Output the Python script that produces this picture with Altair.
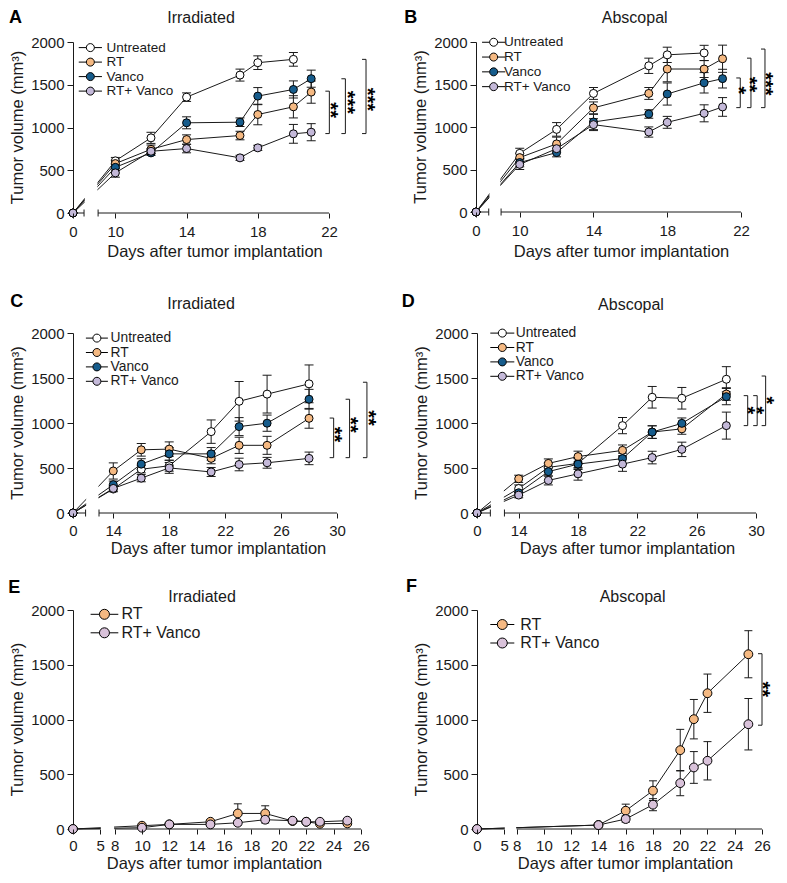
import altair as alt
import pandas as pd

FONT = "Liberation Sans"
INK = "#1a1a1a"

NAMES4 = ["Untreated", "RT", "Vanco", "RT+ Vanco"]
FILL4 = ["#ffffff", "#F5B982", "#165C8C", "#C4B9D9"]
NAMES2 = ["RT", "RT+ Vanco"]
FILL2 = ["#F5B982", "#D9C2DA"]

# ---------------- Panel A : Irradiated ----------------
A_days = [0, 10, 12, 14, 17, 18, 20, 21]
A_untreated = [0, 610, 879, 1355, 1613, 1758, 1797, None]
A_untreated_err = [0, 40, 65, 50, 70, 80, 80, None]
A_rt = [0, 578, 745, 859, 906, 1152, 1242, 1414]
A_rt_err = [0, 40, 50, 55, 50, 120, 130, 130]
A_vanco = [0, 534, 703, 1055, 1062, 1367, 1445, 1571]
A_vanco_err = [0, 40, 30, 70, 50, 100, 100, 100]
A_rtv = [0, 469, 722, 754, 645, 762, 926, 945]
A_rtv_err = [0, 50, 30, 50, 30, 30, 110, 100]
A_br_x = [22.02, 22.92, 24.08]
A_br_top = [1425, 1570, 1797]
A_br_bot = [929, 929, 929]
A_st_x = [22.39, 23.35, 24.47]
A_st_y = [1203, 1293, 1328]
A_st_txt = ["**", "***", "***"]

# ---------------- Panel B : Abscopal ----------------
B_days = [0, 10, 12, 14, 17, 18, 20, 21]
B_untreated = [0, 690, 972, 1395, 1720, 1849, 1871, None]
B_untreated_err = [0, 60, 80, 70, 90, 90, 90, None]
B_rt = [0, 640, 801, 1225, 1395, 1682, 1682, 1803]
B_rt_err = [0, 50, 80, 70, 70, 150, 100, 160]
B_vanco = [0, 582, 699, 1059, 1153, 1388, 1520, 1569]
B_vanco_err = [0, 50, 50, 90, 50, 130, 120, 110]
B_rtv = [0, 560, 745, 1028, 941, 1055, 1161, 1236]
B_rtv_err = [0, 60, 40, 70, 60, 70, 100, 110]
B_br_x = [21.96, 22.54, 23.3]
B_br_top = [1577, 1810, 1917]
B_br_bot = [1228, 1228, 1228]
B_st_x = [22.15, 22.76, 23.63]
B_st_y = [1432, 1500, 1508]
B_st_txt = ["*", "**", "***"]

# ---------------- Panel C : Irradiated ----------------
C_days = [0, 14, 16, 18, 21, 23, 25, 28]
C_untreated = [0, 266, 486, 525, 904, 1241, 1321, 1435]
C_untreated_err = [0, 30, 40, 60, 130, 220, 210, 210]
C_rt = [0, 467, 702, 710, 607, 752, 752, 1052]
C_rt_err = [0, 90, 70, 80, 60, 90, 100, 110]
C_vanco = [0, 315, 543, 657, 657, 960, 998, 1264]
C_vanco_err = [0, 40, 60, 70, 70, 100, 90, 110]
C_rtv = [0, 273, 387, 501, 456, 539, 558, 607]
C_rtv_err = [0, 30, 40, 60, 50, 70, 60, 70]
C_br_x = [29.76, 30.9, 32.14]
C_br_top = [1055, 1264, 1453]
C_br_bot = [615, 615, 615]
C_st_x = [30.21, 31.36, 32.64]
C_st_y = [872, 979, 1055]
C_st_txt = ["**", "**", "**"]

# ---------------- Panel D : Abscopal ----------------
D_days = [0, 14, 16, 18, 21, 23, 25, 28]
D_untreated = [0, 272, 507, 551, 971, 1286, 1275, 1486]
D_untreated_err = [0, 40, 50, 60, 90, 120, 120, 140]
D_rt = [0, 380, 551, 627, 696, 899, 935, 1322]
D_rt_err = [0, 40, 50, 60, 60, 70, 60, 70]
D_vanco = [0, 225, 460, 543, 605, 899, 996, 1293]
D_vanco_err = [0, 30, 50, 60, 60, 70, 60, 90]
D_rtv = [0, 199, 362, 435, 543, 616, 707, 971]
D_rtv_err = [0, 30, 50, 70, 80, 70, 80, 150]
D_br_x = [29.44, 30.08, 30.65]
D_br_top = [1304, 1304, 1522]
D_br_bot = [971, 971, 971]
D_st_x = [29.74, 30.38, 31.06]
D_st_y = [1141, 1141, 1250]
D_st_txt = ["*", "*", "*"]

# ---------------- Panel E : Irradiated ----------------
E_days = [0, 10, 12, 15, 17, 19, 21, 22, 23, 25]
E_rt = [0, 30, 42, 66, 142, 142, 73, 66, 48, 51]
E_rt_err = [0, 10, 10, 15, 88, 70, 15, 15, 10, 10]
E_rtv = [0, 12, 42, 42, 57, 85, 76, 66, 66, 76]
E_rtv_err = [0, 5, 10, 10, 20, 30, 15, 15, 10, 10]

# ---------------- Panel F : Abscopal ----------------
F_days = [0, 14, 16, 18, 20, 21, 22, 25]
F_rt = [0, 36, 167, 350, 720, 1003, 1240, 1596]
F_rt_err = [0, 10, 60, 90, 190, 180, 175, 215]
F_rtv = [0, 36, 91, 222, 419, 562, 623, 957]
F_rtv_err = [0, 10, 30, 55, 115, 145, 175, 235]
F_br_x = [26.0]
F_br_top = [1601]
F_br_bot = [948]
F_st_x = [26.42]
F_st_y = [1276]
F_st_txt = ["**"]

Y_TICKS = [0, 500, 1000, 1500, 2000]
NBSP = "\u00a0"
X_TITLE = "Days after tumor implantation"
Y_TITLE = "Tumor volume (mm³)"


def long_df(days, names, means, errs):
    rows = []
    for name, m, e in zip(names, means, errs):
        for d, v, s in zip(days, m, e):
            if v is None:
                continue
            rows.append({"series": name, "day": d, "value": v, "err": s})
    return pd.DataFrame(rows)


def make_panel(p):
    df = long_df(p["days"], p["names"], p["means"], p["errs"])
    pos_expr = f"datum.day <= {p['LB']} ? {p['P0']} + datum.day * {p['K']} : datum.day"
    xs = alt.Scale(domain=[p["P0"], p["END"]], nice=False, zero=False)
    ys = alt.Scale(domain=[0, 2000], nice=False, zero=False)

    if p["LB"] > 0:
        lab = (f"datum.value < {p['P0'] + 0.3} ? '0' : "
               f"(datum.value < {p['RS'] - 0.3} ? '{p['LB']}' : datum.label)")
    else:
        lab = f"datum.value < {p['RS']} ? '0' : datum.label"

    xaxis = alt.Axis(values=p["ticks"], labelExpr=lab, domain=False, ticks=True,
                     tickSize=5, tickColor=INK, labelPadding=p["xlp"], labelFontSize=15,
                     labelFont=FONT, labelColor=INK, labelOverlap=False, labelFlush=False,
                     labelBound=False, grid=False, titleFont=FONT, titleFontSize=16.5,
                     titleFontWeight="normal", titleColor=INK, titleX=p["xt"][0],
                     titleY=p["xt"][1], titleBaseline="middle", titleAlign="center", zindex=1)
    yaxis = alt.Axis(values=Y_TICKS, format="d", tickSize=6, tickColor=INK, domainColor=INK,
                     labelPadding=3, labelFontSize=15, labelFont=FONT, labelColor=INK,
                     grid=False, labelFlush=False, labelOverlap=False)

    def X(f):
        return alt.X(f + ":Q", scale=xs, axis=xaxis, title=X_TITLE)

    def Y(f):
        return alt.Y(f + ":Q", scale=ys, axis=yaxis, title=None)

    base = alt.Chart(df).transform_calculate(pos=pos_expr)
    lines = base.mark_line(color=INK, strokeWidth=1).encode(
        x=X("pos"), y=Y("value"), detail="series:N", order="day:Q")

    gap_df = pd.DataFrame({"x1": [p["LE"] + 0.04], "x2": [p["RS"] - 0.04],
                           "y1": [0], "y2": [p["gap_top"]]})
    gap = alt.Chart(gap_df).mark_rect(color="white").encode(
        x=X("x1"), x2=alt.X2("x2"), y=Y("y1"), y2=alt.Y2("y2"))

    ax_df = pd.DataFrame({"x1": [p["P0"], p["RS"]], "x2": [p["LE"], p["END"]], "y": [0, 0]})
    axr = alt.Chart(ax_df).mark_rule(color=INK, strokeWidth=1).encode(
        x=X("x1"), x2=alt.X2("x2"), y=Y("y"))

    layers = [lines, gap, axr]
    if p["caps"]:
        cap_df = pd.DataFrame({"x": [p["LE"], p["RS"]], "y": [0, 0]})
        layers.append(alt.Chart(cap_df).mark_tick(orient="vertical", size=7, thickness=1,
                                                   color=INK, opacity=1).encode(x=X("x"), y=Y("y")))

    eb = base.transform_filter("datum.err > 0").transform_calculate(
        lo="datum.value - datum.err", hi="datum.value + datum.err")
    layers.append(eb.mark_rule(color=INK, strokeWidth=1).encode(
        x=X("pos"), y=Y("lo"), y2=alt.Y2("hi")))
    for f in ["lo", "hi"]:
        layers.append(eb.mark_tick(orient="horizontal", size=p["cap"], thickness=1,
                                   color=INK, opacity=1).encode(x=X("pos"), y=Y(f)))

    lg = p["leg"]
    h = lg["half"] / lg["r"]
    sym = f"M{-h:.3f},0L-1,0M1,0L{h:.3f},0M1,0A1,1,0,1,1,-1,0A1,1,0,1,1,1,0Z"
    legend = alt.Legend(title=None, orient="none", legendX=lg["x"], legendY=lg["y"],
                        symbolType=sym, symbolSize=(2 * lg["r"]) ** 2, symbolStrokeColor="black",
                        symbolStrokeWidth=1, labelFont=FONT, labelFontSize=lg["fs"],
                        labelColor=INK, labelOffset=lg["lo"], rowPadding=lg["rp"], padding=0,
                        labelExpr=lg["expr"])
    pts = base.mark_circle(size=p["size"], opacity=1, stroke="black", strokeWidth=1).encode(
        x=X("pos"), y=Y("value"),
        fill=alt.Fill("series:N", scale=alt.Scale(domain=p["names"], range=p["fills"]),
                      legend=legend))
    layers.append(pts)

    if p["br_x"]:
        br = pd.DataFrame({"bx": p["br_x"], "top": p["br_top"], "bot": p["br_bot"]})
        layers.append(alt.Chart(br).mark_rule(color=INK, strokeWidth=1).encode(
            x=X("bx"), y=Y("bot"), y2=alt.Y2("top")))
        for f in ["top", "bot"]:
            layers.append(alt.Chart(br).mark_tick(orient="horizontal", size=4, thickness=1,
                                                  xOffset=-2, color=INK, opacity=1).encode(
                x=X("bx"), y=Y(f)))
        st = pd.DataFrame({"sx": p["st_x"], "sy": p["st_y"], "txt": p["st_txt"]})
        layers.append(alt.Chart(st).mark_text(angle=90, font=FONT, fontSize=20,
                                              fontWeight="bold", align="center",
                                              baseline="middle", dy=5.6, color="black").encode(
            x=X("sx"), y=Y("sy"), text="txt:N"))

    one = pd.DataFrame({"k": [0]})
    # y-axis title
    layers.append(alt.Chart(one).mark_text(text=Y_TITLE, angle=270, font=FONT, fontSize=16.5,
                                           align="center", baseline="bottom", color=INK).encode(
        x=alt.value(-47), y=alt.value(p["H"] / 2)))
    layers.append(alt.Chart(one).mark_text(text=p["key"], font=FONT, fontSize=18,
                                           fontWeight="bold", align="left", baseline="middle",
                                           color="black").encode(
        x=alt.value(p["letter"][0]), y=alt.value(p["letter"][1])))
    layers.append(alt.Chart(one).mark_text(text=p["title"], font=FONT, fontSize=16,
                                           align="center", baseline="middle", color=INK).encode(
        x=alt.value(p["ttl"][0]), y=alt.value(p["ttl"][1])))

    return alt.layer(*layers).properties(width=p["W"], height=p["H"])


E4 = f"datum.label == 'RT+ Vanco' ? '{NBSP}RT+ Vanco' : datum.label"

PA = dict(key="A", title="Irradiated", names=NAMES4, fills=FILL4, days=A_days,
          means=[A_untreated, A_rt, A_vanco, A_rtv],
          errs=[A_untreated_err, A_rt_err, A_vanco_err, A_rtv_err],
          W=256, H=171, P0=7.62, K=1, LB=0, LE=8.24, RS=9.03, END=22,
          ticks=[7.62, 10, 14, 18, 22], gap_top=1000, caps=True, xlp=6.5, xt=(141.5, 38.4),
          br_x=A_br_x, br_top=A_br_top, br_bot=A_br_bot, st_x=A_st_x, st_y=A_st_y, st_txt=A_st_txt,
          letter=(-64, -24.4), ttl=(128, -24.4), size=64, cap=9,
          leg=dict(x=10.6, y=-1.15, fs=13.5, rp=-0.5, r=4, half=11.6, lo=9.4, expr=E4))
PB = dict(key="B", title="Abscopal", names=NAMES4, fills=FILL4, days=B_days,
          means=[B_untreated, B_rt, B_vanco, B_rtv],
          errs=[B_untreated_err, B_rt_err, B_vanco_err, B_rtv_err],
          W=265, H=170, P0=7.63, K=1, LB=0, LE=8.32, RS=8.99, END=22,
          ticks=[7.63, 10, 14, 18, 22], gap_top=1000, caps=True, xlp=6.5, xt=(145, 39.2),
          br_x=B_br_x, br_top=B_br_top, br_bot=B_br_bot, st_x=B_st_x, st_y=B_st_y, st_txt=B_st_txt,
          letter=(-71.7, -24.4), ttl=(158.7, -24.4), size=64, cap=9,
          leg=dict(x=10.9, y=-6.5, fs=13.5, rp=-0.2, r=4, half=11.6, lo=3.5, expr=E4))
PC = dict(key="C", title="Irradiated", names=NAMES4, fills=FILL4, days=C_days,
          means=[C_untreated, C_rt, C_vanco, C_rtv],
          errs=[C_untreated_err, C_rt_err, C_vanco_err, C_rtv_err],
          W=264, H=180, P0=11.12, K=1, LB=0, LE=12.02, RS=12.98, END=30,
          ticks=[11.12, 14, 18, 22, 26, 30], gap_top=700, caps=True, xlp=5, xt=(145, 35),
          br_x=C_br_x, br_top=C_br_top, br_bot=C_br_bot, st_x=C_st_x, st_y=C_st_y, st_txt=C_st_txt,
          letter=(-62.7, -30.8), ttl=(128, -29.2), size=64, cap=9,
          leg=dict(x=17, y=-1.8, fs=13.8, rp=-0.6, r=4, half=11, lo=6.8, expr=E4))
PD = dict(key="D", title="Abscopal", names=NAMES4, fills=FILL4, days=D_days,
          means=[D_untreated, D_rt, D_vanco, D_rtv],
          errs=[D_untreated_err, D_rt_err, D_vanco_err, D_rtv_err],
          W=279, H=180, P0=11.19, K=1, LB=0, LE=12.09, RS=13.04, END=30,
          ticks=[11.19, 14, 18, 22, 26, 30], gap_top=700, caps=True, xlp=5, xt=(150, 35),
          br_x=D_br_x, br_top=D_br_top, br_bot=D_br_bot, st_x=D_st_x, st_y=D_st_y, st_txt=D_st_txt,
          letter=(-75.3, -30.8), ttl=(154, -28.5), size=64, cap=9,
          leg=dict(x=18.4, y=-6.8, fs=13.8, rp=-0.6, r=4, half=12, lo=6.5, expr=E4))
PE = dict(key="E", title="Irradiated", names=NAMES2, fills=FILL2, days=E_days,
          means=[E_rt, E_rtv], errs=[E_rt_err, E_rtv_err],
          W=288, H=219, P0=4.96, K=0.398, LB=5, LE=6.95, RS=8, END=26,
          ticks=[4.96, 6.95, 8, 10, 12, 14, 16, 18, 20, 22, 24, 26], gap_top=300, caps=False,
          xlp=4, xt=(141, 34),
          br_x=[], br_top=[], br_bot=[], st_x=[], st_y=[], st_txt=[],
          letter=(-64.7, -22), ttl=(129, -12.7), size=78, cap=8,
          leg=dict(x=23.45, y=-3.7, fs=16, rp=2.5, r=5, half=13.85, lo=9, expr="datum.label"))
PF = dict(key="F", title="Abscopal", names=NAMES2, fills=FILL2, days=F_days,
          means=[F_rt, F_rtv], errs=[F_rt_err, F_rtv_err],
          W=285, H=219, P0=5.09, K=0.4, LB=5, LE=7.09, RS=8, END=26,
          ticks=[5.09, 7.09, 8, 10, 12, 14, 16, 18, 20, 22, 24, 26], gap_top=300, caps=False,
          xlp=4, xt=(148, 34),
          br_x=F_br_x, br_top=F_br_top, br_bot=F_br_bot, st_x=F_st_x, st_y=F_st_y, st_txt=F_st_txt,
          letter=(-71, -22.7), ttl=(155.6, -12.7), size=78, cap=8,
          leg=dict(x=17.3, y=6.5, fs=16, rp=2.5, r=5, half=12, lo=10, expr="datum.label"))

pa, pb, pc, pd_, pe, pf = [make_panel(p) for p in (PA, PB, PC, PD, PE, PF)]

row1 = alt.hconcat(pa, pb, spacing=26).resolve_scale(fill="independent")
row2 = alt.hconcat(pc, pd_, spacing=22).resolve_scale(fill="independent")
row3 = alt.hconcat(pe, pf, spacing=36).resolve_scale(fill="independent")
top = alt.vconcat(row1, row2, spacing=33).resolve_scale(fill="independent")
chart = alt.vconcat(top, row3, spacing=21).resolve_scale(fill="independent")

chart = chart.configure(padding=0, background="white").configure_view(stroke=None)

chart.save("out.html", embed_options={"renderer": "svg", "actions": False})
